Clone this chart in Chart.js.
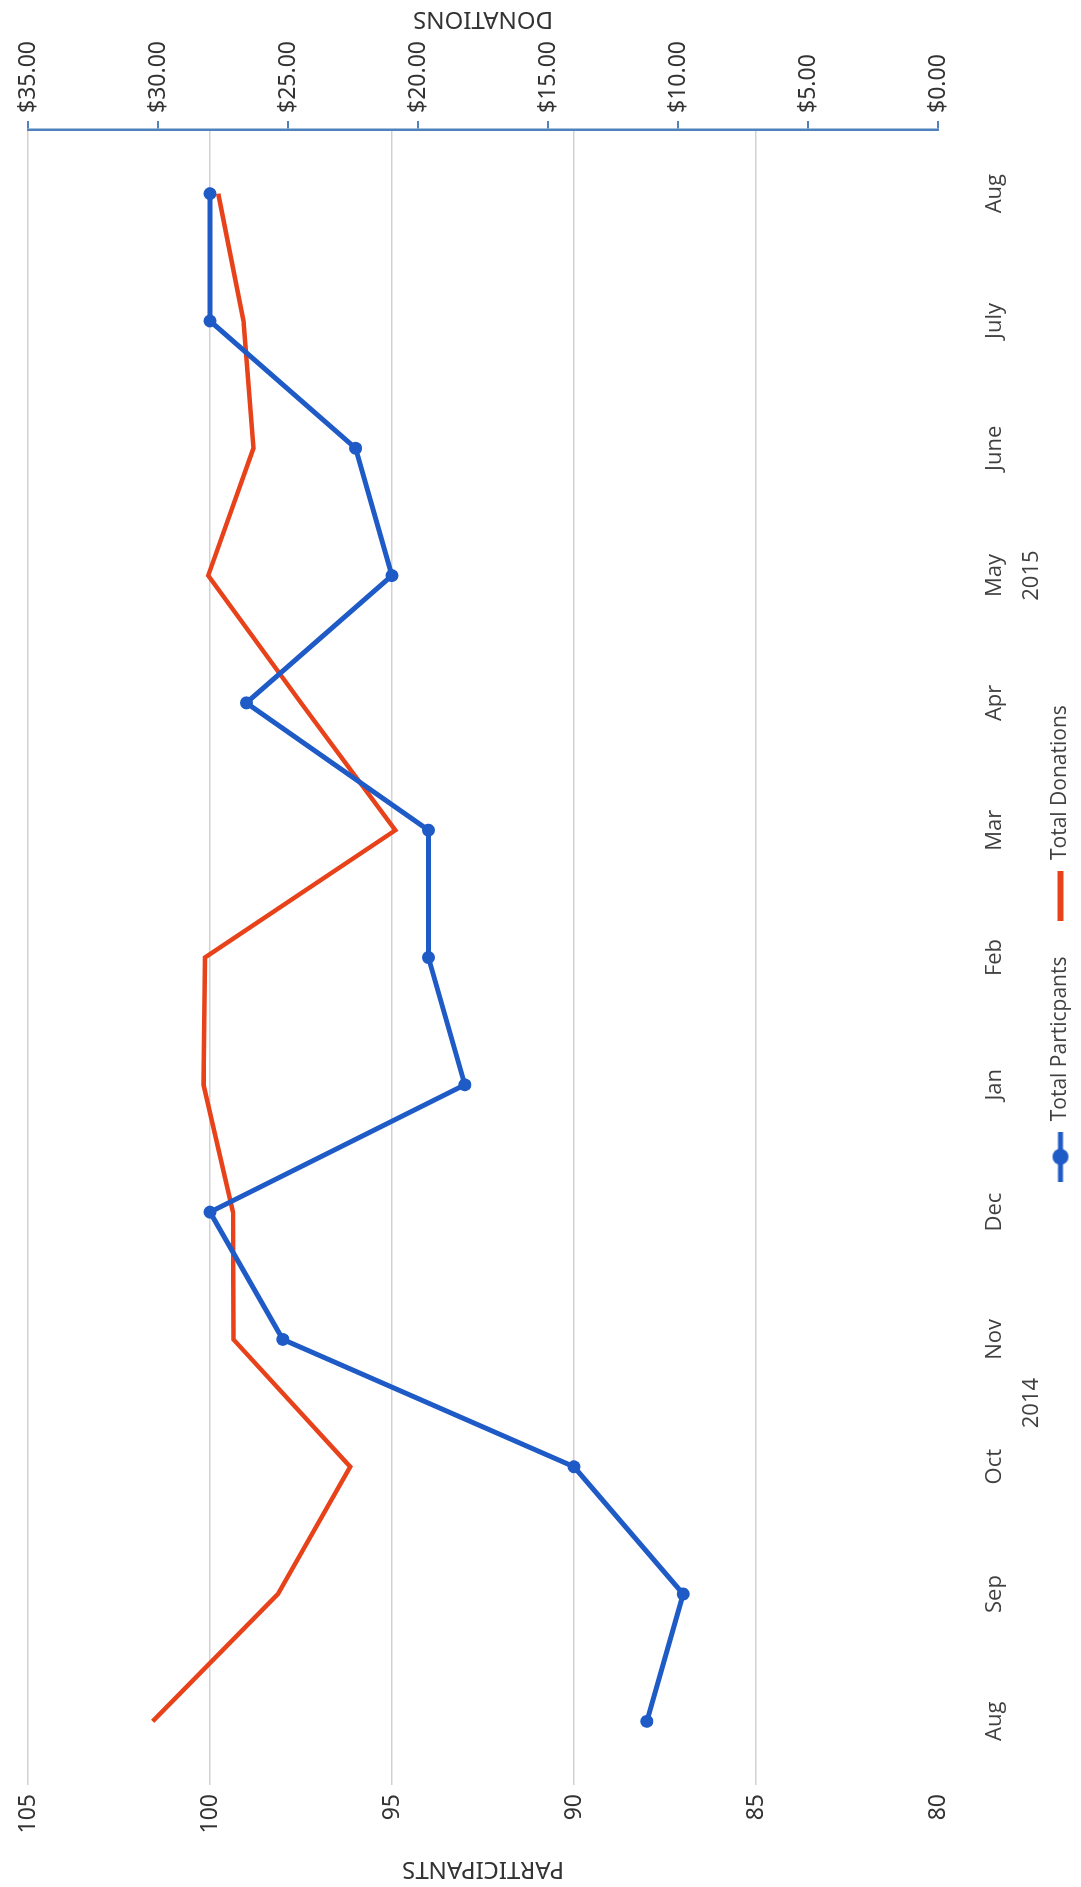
<!DOCTYPE html>
<html>
<head>
<meta charset="utf-8">
<script src="https://cdn.jsdelivr.net/npm/chart.js@4"></script>
<style>
  html, body { margin: 0; padding: 0; background: #fff; overflow: hidden; }
  /* the chart is drawn landscape and turned a quarter turn, like the scanned page */
  #wrap {
    position: absolute; top: 0; left: 0;
    width: 1887px; height: 1081px;
    transform-origin: 0 0;
    transform: translateY(1887px) rotate(-90deg);
  }
</style>
</head>
<body>
<div id="wrap"><canvas id="myChart" width="1887" height="1081"></canvas></div>
<script>
let months = ["Aug", "Sep", "Oct", "Nov", "Dec", "Jan", "Feb", "Mar", "Apr", "May", "June", "July", "Aug"];
let participants = [88, 87, 90, 98, 100, 93, 94, 94, 99, 95, 96, 100, 100];
let donations = [30.21, 25.39, 22.61, 27.10, 27.12, 28.25, 28.19, 20.87, 24.50, 28.07, 26.33, 26.71, 27.68];
let years = ["2014", "2015"];
let yearFirst = [0, 6];
let yearLast = [5, 12];

let blue = '#1F5BC6';
let red = '#E8421A';
let axisBlue = '#4F81BD';
let textGrey = '#404040';
let numFont = "'Noto Sans', 'DejaVu Sans', sans-serif";
let catFont = "'Liberation Sans Narrow', 'Open Sans', sans-serif";

// little legend swatches: line with dot, and plain line
function swatch(color, dot) {
    let c = document.createElement('canvas');
    c.width = 50; c.height = 18;
    let g = c.getContext('2d');
    g.strokeStyle = color;
    g.lineWidth = dot ? 5 : 6;
    g.beginPath(); g.moveTo(0, 9); g.lineTo(50, 9); g.stroke();
    if (dot) {
        g.fillStyle = color;
        g.beginPath(); g.arc(25, 9, 8, 0, Math.PI * 2); g.fill();
    }
    return c;
}

let extraText = {
    id: 'extraText',
    afterDraw(chart) {
        let ctx = chart.ctx;
        let x = chart.scales.x;
        let area = chart.chartArea;
        ctx.save();
        ctx.fillStyle = textGrey;
        ctx.textAlign = 'center';
        ctx.textBaseline = 'middle';
        ctx.font = "22px " + catFont;
        for (let i = 0; i < years.length; i++) {
            let mid = (x.getPixelForValue(yearFirst[i]) + x.getPixelForValue(yearLast[i])) / 2;
            ctx.fillText(years[i], mid, 1032);
        }
        // right axis title reads bottom-to-top, same as the left one
        ctx.fillStyle = '#333';
        ctx.font = "24px " + numFont;
        ctx.translate(chart.width - 19, (area.top + area.bottom) / 2);
        ctx.rotate(-Math.PI / 2);
        ctx.fillText("DONATIONS", 0, 0);
        ctx.restore();
    }
};

let ctx = document.getElementById("myChart").getContext('2d');

let chart = new Chart(ctx, {
    type: 'line',
    data: {
        labels: months,
        datasets: [{
            label: "Total Particpants",
            data: participants,
            yAxisID: 'yP',
            borderColor: blue,
            backgroundColor: blue,
            borderWidth: 5,
            pointRadius: 6.5,
            pointBackgroundColor: blue,
            pointBorderWidth: 0,
            tension: 0
        }, {
            label: "Total Donations",
            data: donations,
            yAxisID: 'yD',
            borderColor: red,
            backgroundColor: red,
            borderWidth: 4.5,
            pointRadius: 0,
            tension: 0
        }]
    },
    options: {
        responsive: false,
        devicePixelRatio: 1,
        animation: false,
        layout: { padding: { top: 28, left: 0, right: 0, bottom: 0 } },
        plugins: {
            tooltip: { enabled: false },
            legend: {
                position: 'bottom',
                labels: {
                    color: textGrey,
                    font: { size: 21, family: catFont },
                    padding: 36,
                    boxHeight: 18,
                    usePointStyle: true,
                    pointStyleWidth: 50,
                    generateLabels(c) {
                        return c.data.datasets.map((ds, i) => ({
                            text: ds.label,
                            fontColor: textGrey,
                            pointStyle: swatch(ds.borderColor, i === 0),
                            datasetIndex: i,
                            lineWidth: 0
                        }));
                    }
                }
            }
        },
        scales: {
            x: {
                type: 'category',
                offset: true,
                grid: { display: false },
                border: { display: false },
                ticks: {
                    color: textGrey,
                    padding: 36,
                    maxRotation: 0,
                    autoSkip: false,
                    font: { size: 22, family: catFont }
                },
                afterFit(s) { s.height = 76; }
            },
            yP: {
                position: 'left',
                min: 80,
                max: 105,
                ticks: {
                    stepSize: 5,
                    color: '#333',
                    padding: 9,
                    font: { size: 23, family: numFont }
                },
                grid: {
                    color: (c) => c.tick && c.tick.value === 80 ? 'rgba(0,0,0,0)' : '#D2D2D2',
                    lineWidth: 1.5,
                    drawTicks: false
                },
                border: { display: false },
                title: {
                    display: true,
                    text: "PARTICIPANTS",
                    color: '#333',
                    padding: { top: 4, bottom: 0 },
                    font: { size: 24, family: numFont }
                },
                afterFit(s) { s.width = 102; }
            },
            yD: {
                position: 'right',
                min: 0,
                max: 35,
                ticks: {
                    stepSize: 5,
                    color: '#333',
                    padding: 8,
                    font: { size: 23, family: numFont },
                    callback: (v) => '$' + v.toFixed(2)
                },
                grid: {
                    drawOnChartArea: false,
                    color: axisBlue,
                    lineWidth: 2,
                    tickLength: 9
                },
                border: { display: true, color: axisBlue, width: 2.5 },
                afterFit(s) { s.width = 130; }
            }
        }
    },
    plugins: [extraText]
});
</script>
</body>
</html>
